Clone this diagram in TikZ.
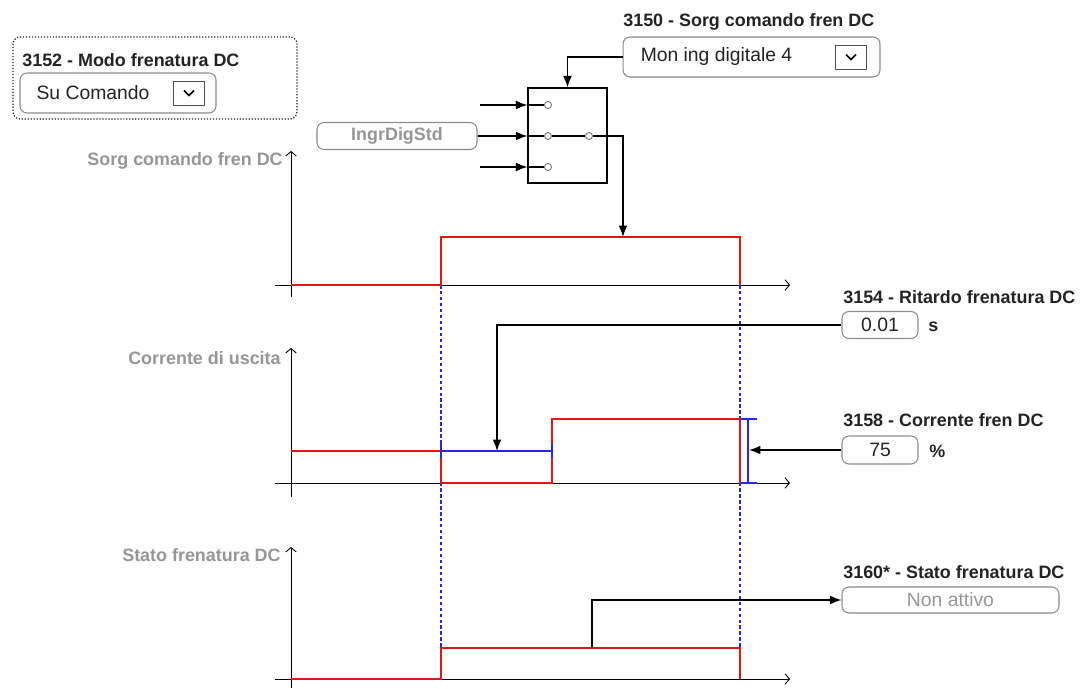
\documentclass[tikz,border=0pt]{standalone}
\usepackage{fontspec}
\setmainfont{Liberation Sans}
\usetikzlibrary{calc, arrows.meta, positioning}

\begin{document}
\begin{tikzpicture}[x=0.02cm, y=-0.02cm, >={Latex[length=6.5pt,width=5pt]},
    titolo/.style={anchor=west, inner sep=0pt, text=scuro, font=\fontsize{10.2}{12}\selectfont\bfseries},
    etichetta/.style={anchor=east, inner sep=0pt, text=grigio, font=\fontsize{10.2}{12}\selectfont\bfseries},
    casella/.style={draw=bordo, rounded corners=4pt, line width=0.6pt, inner sep=0pt, text=scuro, font=\fontsize{11}{13}\selectfont},
    valore/.style={inner sep=0pt, text=scuro, font=\fontsize{11}{13}\selectfont},
    spunta/.style={draw=scuro!80, line width=0.5pt, minimum width=0.62cm, minimum height=0.48cm, inner sep=0pt},
    asse/.style={line width=0.5pt, -{Straight Barb[length=2.5pt,width=6pt]}},
    freccia/.style={line width=0.8pt, ->},
    segnale/.style={rosso, line width=1.2pt},
    livello/.style={blu, line width=0.9pt},
    guida/.style={blu, line width=1pt, dash pattern=on 2pt off 1.4pt},
    pallino/.style={circle, draw=grigio!90!black, line width=0.6pt, fill=white, inner sep=0pt, minimum size=0.14cm}]
    % Colori
    \definecolor{rosso}{RGB}{230, 20, 20}   % segnali
    \definecolor{blu}{RGB}{40, 40, 220}     % livelli e guide
    \definecolor{grigio}{RGB}{150, 150, 150}
    \definecolor{bordo}{RGB}{140, 140, 140}
    \definecolor{scuro}{RGB}{35, 35, 35}

    \useasboundingbox (0,0) rectangle (1080,689);

    % 1. Modo frenatura DC
    \node[draw=scuro, densely dotted, rounded corners=4pt, line width=0.7pt,
          minimum width=5.68cm, minimum height=1.64cm] (riqModo) at (155,78) {};
    \node[titolo] (titModo) at (22,60) {3152 - Modo frenatura DC};
    \node[casella, minimum width=3.92cm, minimum height=0.8cm] (boxModo) at (118,93) {};
    \node[valore] (valModo) at (93,93) {Su Comando};
    \node[spunta] (spModo) at (189,93) {};
    \draw[line width=1pt] ($(spModo)+(-5,-2.5)$) -- ($(spModo)+(0,2.5)$) -- ($(spModo)+(5,-2.5)$);

    % 2. Sorgente comando
    \node[titolo] (titSorg) at (623,22) {3150 - Sorg comando fren DC};
    \node[casella, minimum width=5.14cm, minimum height=0.8cm] (boxSorg) at (751.5,57) {};
    \node[valore] (valSorg) at (716.5,57) {Mon ing digitale 4};
    \node[spunta] (spSorg) at (851,57) {};
    \draw[line width=1pt] ($(spSorg)+(-5,-2.5)$) -- ($(spSorg)+(0,2.5)$) -- ($(spSorg)+(5,-2.5)$);

    % 3. Selettore
    \node[draw=black, line width=0.7pt, minimum width=1.58cm, minimum height=1.9cm] (sel) at (567.5,135.5) {};
    \node[pallino] (c1) at (548,105) {};
    \node[pallino] (c2) at (548,136) {};
    \node[pallino] (c3) at (548,167) {};
    \node[pallino] (c4) at (589,136) {};
    \coordinate (in1) at (480,105);
    \coordinate (in3) at (480,167);
    \coordinate (uscita) at (623,237);
    \node[casella, minimum width=3.2cm, minimum height=0.54cm, text=grigio,
          font=\fontsize{10.2}{12}\selectfont\bfseries] (ingr) at (397,136) {IngrDigStd};

    \draw[freccia] (in1) -- (in1 -| sel.west);
    \draw[line width=0.6pt] (in1 -| sel.west) -- (c1);
    \draw[freccia] (ingr.east) -- (c2 -| sel.west);
    \draw[line width=0.6pt] (c2 -| sel.west) -- (c2) -- (c4);
    \draw[freccia] (in3) -- (in3 -| sel.west);
    \draw[line width=0.6pt] (in3 -| sel.west) -- (c3);
    \draw[freccia] (boxSorg.west) -| (sel.north);
    \draw[freccia] (c4) -| (uscita);

    % 4. Assi e etichette
    \foreach \yo/\ytop/\ybot in {285/151/297, 483/348/497, 679/547/688} {
        \draw[asse] (291,\ybot) -- (291,\ytop);
        \draw[asse] (275,\yo) -- (790,\yo);
    }
    \node[etichetta] (labSorg) at (283,161) {Sorg comando fren DC};
    \node[etichetta] (labCorr) at (281,358) {Corrente di uscita};
    \node[etichetta] (labStato) at (281,555) {Stato frenatura DC};

    % 5. Guide verticali
    \draw[guida] (441,285) -- (441,648);
    \draw[guida] (740,285) -- (740,648);

    % 6. Segnali
    \draw[segnale] (291,285) -- (441,285) -- (441,237) -- (740,237) -- (740,285);
    \draw[segnale] (291,451) -- (441,451) -- (441,483) -- (552,483) -- (552,419) -- (740,419) -- (740,483);
    \draw[livello] (441,451) -- (552,451);
    \draw[livello] (441,444) -- (441,458) (552,444) -- (552,458);
    \draw[livello] (741,419) -- (757,419) (748,419) -- (748,483) (741,483) -- (757,483);
    \draw[segnale] (291,679) -- (441,679) -- (441,648) -- (740,648) -- (740,679);

    % 7. Parametri
    \node[titolo] (titRit) at (843,297) {3154 - Ritardo frenatura DC};
    \node[casella, minimum width=1.52cm, minimum height=0.54cm] (boxRit) at (880,325) {0.01};
    \node[titolo] (udmRit) at (928,327) {s};
    \coordinate (ritardo) at (497,451);
    \draw[freccia] (boxRit.west) -| (ritardo);

    \node[titolo] (titCorr) at (843,420) {3158 - Corrente fren DC};
    \node[casella, minimum width=1.52cm, minimum height=0.56cm] (boxCorr) at (880,450) {75};
    \node[titolo] (udmCorr) at (929,451) {\%};
    \coordinate (corrente) at (749,450);
    \draw[freccia] (boxCorr.west) -- (corrente);

    \node[titolo] (titStato) at (843,572) {3160* - Stato frenatura DC};
    \node[casella, minimum width=4.34cm, minimum height=0.52cm, text=grigio] (boxStato) at (950.5,600) {Non attivo};
    \coordinate (stato) at (592,648);
    \draw[freccia] (stato) |- (boxStato.west);
\end{tikzpicture}
\end{document}
